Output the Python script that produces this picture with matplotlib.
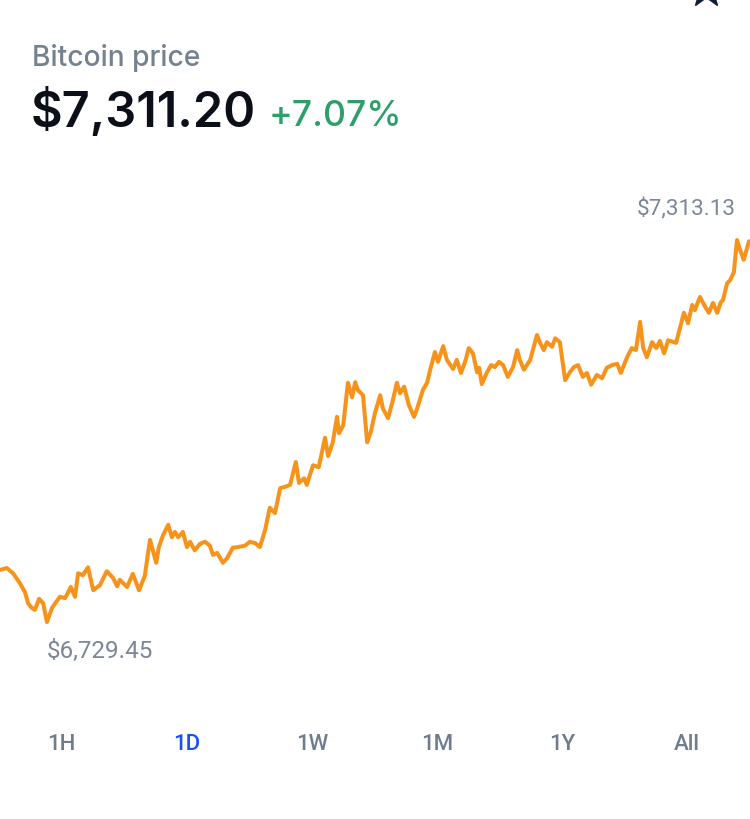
import matplotlib
matplotlib.use("Agg")
import matplotlib.pyplot as plt
import numpy as np

# ---- data (minutes since start of day, price in USD) ----
minutes = [0, 13, 25, 38, 48, 54, 61, 67, 75, 83, 90, 100, 106, 115, 125, 136, 144, 150, 159, 169,
           179, 192, 205, 217, 225, 230, 244, 255, 267, 278, 288, 300, 305, 313, 323, 330, 336, 342, 351, 359,
           365, 374, 384, 394, 403, 409, 417, 428, 436, 447, 457, 470, 480, 490, 499, 509, 518, 528, 538, 547,
           557, 568, 574, 584, 589, 601, 612, 624, 630, 639, 647, 651, 659, 668, 676, 682, 687, 697, 705, 712,
           720, 730, 735, 745, 753, 762, 768, 776, 785, 795, 801, 812, 820, 826, 835, 841, 851, 858, 870, 877,
           885, 893, 900, 908, 916, 920, 925, 935, 943, 950, 958, 966, 975, 985, 993, 998, 1006, 1018, 1031, 1037,
           1044, 1050, 1060, 1066, 1075, 1085, 1094, 1102, 1110, 1119, 1127, 1135, 1146, 1156, 1165, 1175, 1185, 1192, 1204, 1213,
           1221, 1229, 1235, 1242, 1252, 1260, 1267, 1275, 1283, 1298, 1308, 1313, 1321, 1329, 1334, 1344, 1354, 1361, 1369, 1377,
           1384, 1388, 1396, 1402, 1409, 1415, 1421, 1428, 1438]
prices = [6809, 6812, 6804, 6789, 6775, 6758, 6751, 6748, 6765, 6758, 6729.45, 6751, 6758, 6768, 6766, 6783, 6768, 6804, 6801, 6813,
          6778, 6786, 6807, 6797, 6784, 6794, 6783, 6803, 6778, 6800, 6855, 6820, 6844, 6862, 6878, 6859, 6867, 6859, 6867, 6844,
          6852, 6839, 6849, 6852, 6846, 6832, 6835, 6820, 6827, 6843, 6844, 6846, 6852, 6850, 6844, 6870, 6904, 6896, 6934, 6936,
          6939, 6974, 6942, 6949, 6939, 6969, 6966, 7011, 6983, 7004, 7043, 7018, 7030, 7095, 7073, 7096, 7084, 7076, 7004, 7020,
          7049, 7076, 7056, 7041, 7064, 7095, 7079, 7089, 7061, 7043, 7056, 7084, 7095, 7115, 7142, 7127, 7151, 7130, 7116, 7130,
          7110, 7127, 7148, 7140, 7111, 7118, 7093, 7111, 7122, 7119, 7127, 7122, 7104, 7119, 7145, 7130, 7115, 7130, 7168, 7156,
          7145, 7157, 7150, 7163, 7157, 7099, 7111, 7119, 7122, 7104, 7110, 7092, 7107, 7102, 7118, 7122, 7124, 7110, 7134, 7148,
          7145, 7188, 7148, 7134, 7157, 7148, 7159, 7140, 7160, 7156, 7186, 7202, 7186, 7214, 7206, 7226, 7211, 7202, 7217, 7202,
          7218, 7221, 7247, 7252, 7264, 7313.13, 7298, 7283, 7311.20]

title = "Bitcoin price"
current_price = "$7,311.20"
change = "+7.07%"
ranges = ["1H", "1D", "1W", "1M", "1Y", "All"]
active_range = "1D"

W, H = 750, 819
fig = plt.figure(figsize=(W / 100, H / 100), dpi=100)
fig.patch.set_facecolor("white")

# ---- price chart axes: spans pixel rows 150..700 ----
top_px, bot_px = 150, 700
ax = fig.add_axes([0, (H - bot_px) / H, 1, (bot_px - top_px) / H])
ax.set_xlim(0, 1440)
ax.set_ylim(6610.3, 7450.7)
ax.axis("off")
ax.plot(minutes, prices, color="#F7931A", lw=2.9, solid_joinstyle="round", solid_capstyle="round")

imax = int(np.argmax(prices))
imin = int(np.argmin(prices))
label_col = "#7B8797"
ax.annotate(f"${prices[imax]:,.2f}", xy=(minutes[imax], prices[imax]), xytext=(-1, 31),
            textcoords="offset pixels", ha="right", va="center", fontsize=16.2,
            color=label_col, family="Roboto")
ax.annotate(f"${prices[imin]:,.2f}", xy=(minutes[imin], prices[imin]), xytext=(0, -29),
            textcoords="offset pixels", ha="left", va="center", fontsize=17.5,
            color=label_col, family="Roboto")

# ---- overlay axes in pixel coordinates for header / tabs ----
ov = fig.add_axes([0, 0, 1, 1], zorder=-1)
ov.set_xlim(0, W)
ov.set_ylim(H, 0)
ov.axis("off")

ov.text(32, 58, title, fontsize=20.3, color="#74818F", ha="left", va="center",
        family="Inter", fontweight="medium")
ov.text(31, 112, current_price, fontsize=35, color="#0B0F17", ha="left", va="center",
        family="Inter", fontweight="semibold")
ov.text(269, 117, change, fontsize=25.6, color="#2E9E6A", ha="left", va="center",
        family="Inter", fontweight="medium")

tab_x = [61, 187, 312, 437, 562, 687]
for lbl, x in zip(ranges, tab_x):
    col = "#1652F0" if lbl == active_range else "#6E7C8E"
    ov.text(x, 745, lbl, fontsize=16, color=col, ha="center", va="center",
            family="Roboto", fontweight="medium")

# star icon (cut off at top)
ov.plot([706], [-10], marker="*", markersize=26, color="#0C1C3C", clip_on=True)

fig.savefig("out.png", dpi=100, facecolor="white")
